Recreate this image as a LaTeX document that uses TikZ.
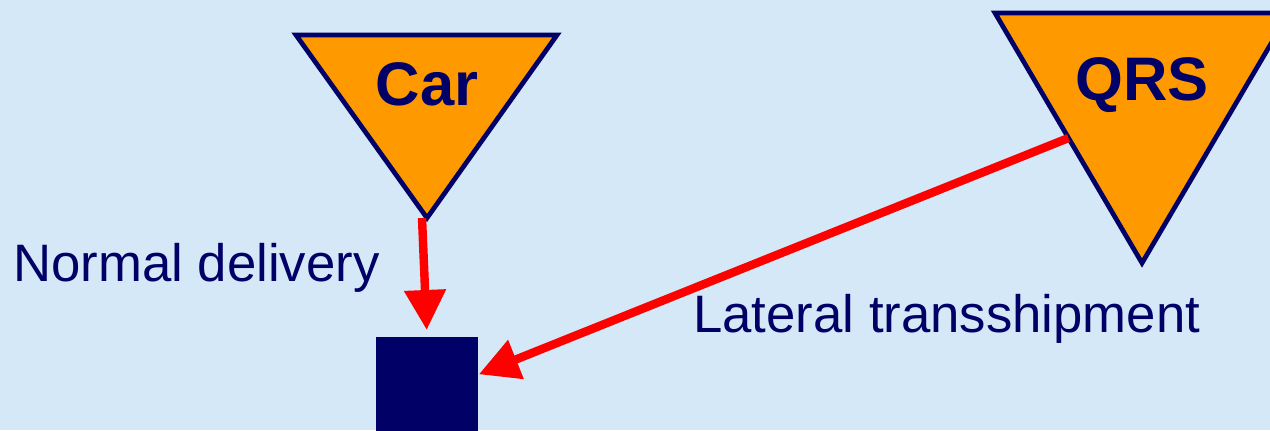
\documentclass[tikz,border=0pt]{standalone}
\usepackage{fontspec}
\setmainfont{Liberation Sans}
\usetikzlibrary{arrows.meta, positioning, calc}
\definecolor{slidebg}{RGB}{213, 232, 248}
\definecolor{navy}{RGB}{0, 0, 102}
\definecolor{depotfill}{RGB}{255, 153, 0}
\definecolor{flowred}{RGB}{255, 0, 0}
\tikzset{
    warehouse/.style={draw=navy, fill=depotfill, line width=2.7pt, line join=miter},
    wh_label/.style={font=\fontsize{35}{42}\selectfont\bfseries, text=navy, inner sep=0pt},
    retailer/.style={rectangle, fill=navy, minimum width=2.06cm, minimum height=2.06cm, inner sep=0pt},
    flow/.style={-{Triangle[length=0.8cm, width=0.8cm]}, draw=flowred, line width=4.8pt},
    flow_text/.style={font=\fontsize{30}{36}\selectfont, text=navy, inner sep=0pt}
}

\begin{document}
\begin{tikzpicture}[x=0.02cm, y=-0.02cm]

    % Slide background
    \useasboundingbox (0,0) rectangle (1270,430);
    \clip (0,0) rectangle (1270,430);
    \fill [slidebg] (0,0) rectangle (1270,430);

    % Warehouse corners
    \coordinate (carL) at (296,35);
    \coordinate (carR) at (557,35);
    \coordinate (carB) at (427,218);
    \coordinate (qrsL) at (995,13);
    \coordinate (qrsR) at (1289,13);
    \coordinate (qrsB) at (1142,263);

    % Warehouses
    \draw [warehouse] (carL) -- (carR) -- (carB) -- cycle;
    \draw [warehouse] (qrsL) -- (qrsR) -- (qrsB) -- cycle;
    \node (car) [wh_label, anchor=base] at (427,105) {Car};
    \node (qrs) [wh_label, anchor=base] at (1142,100) {QRS};

    % Retailer
    \node (shop) [retailer, below=2.38cm of carB, anchor=north] {};

    % Paths: deliveries
    \draw [flow, shorten >=0.14cm] ([xshift=-0.1cm]carB) -- (shop.north);
    \draw [flow] ($(qrsL)!0.5!(qrsB)$) -- ($(shop.north east)!0.36!(shop.south east)$);

    % Labels
    \node (normal) [flow_text, anchor=base west] at (13,281) {Normal delivery};
    \node (lateral) [flow_text, anchor=base west] at (693,332) {Lateral transshipment};

\end{tikzpicture}
\end{document}
